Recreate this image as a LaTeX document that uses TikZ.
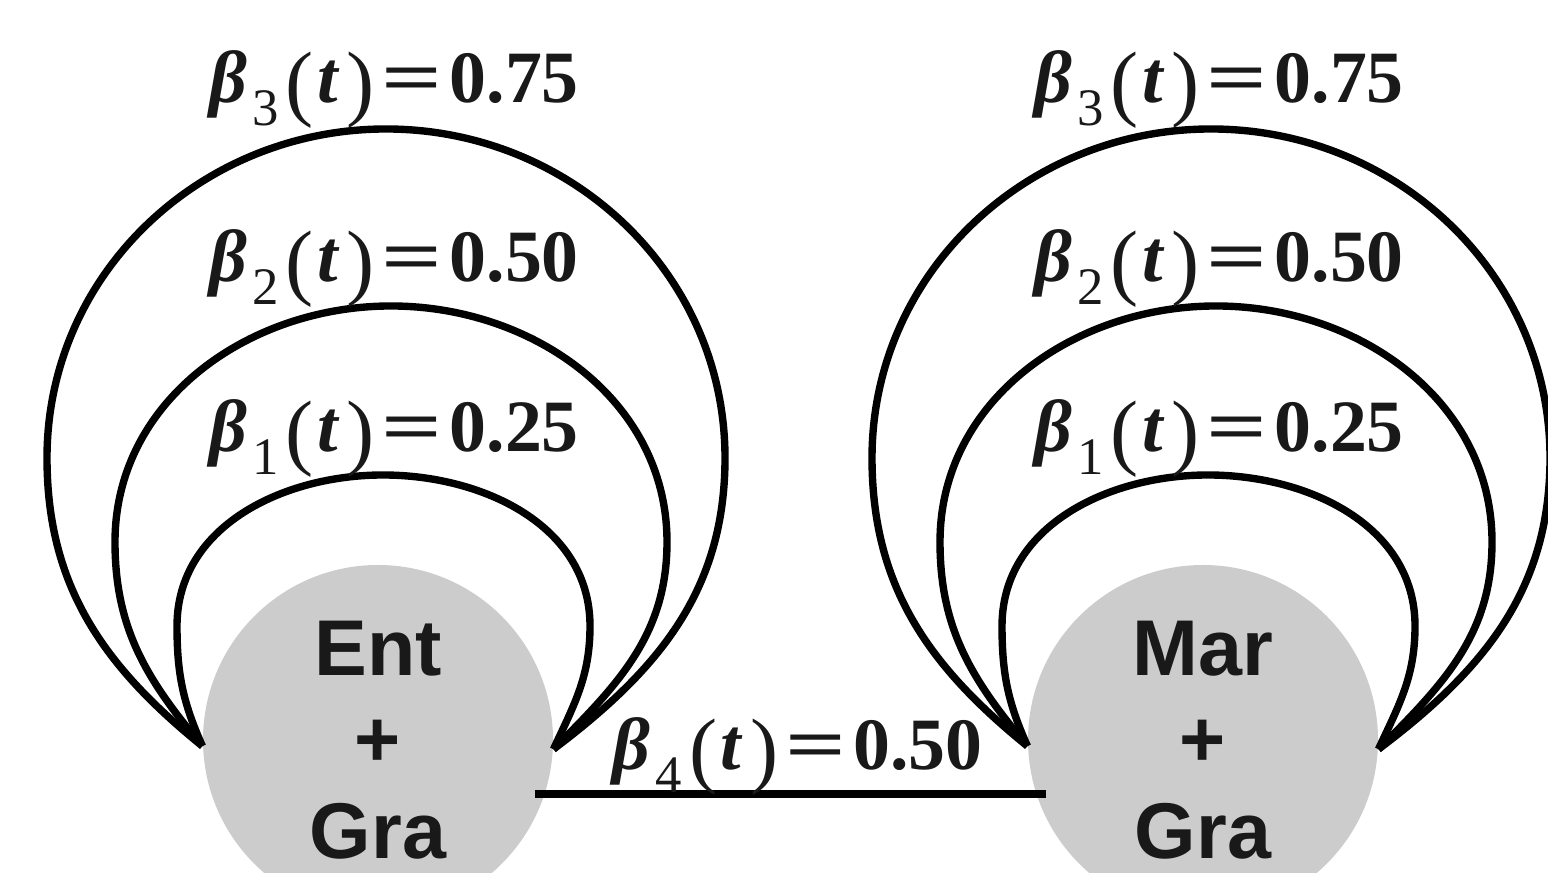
\documentclass[tikz,border=0pt]{standalone}
\usepackage{graphicx}
\usepackage{fontspec}
\setmainfont{Liberation Serif}
\newfontfamily\arialfont{Liberation Sans}
\newcommand{\paren}[1]{\raisebox{-0.1em}{\fontsize{24}{24}\selectfont #1}}
\newcommand{\rate}[2]{\textbf{\textit{β}}\kern1.5pt\raisebox{-6.5pt}{\fontsize{15}{15}\selectfont #1}\kern2pt\paren{(}\kern1pt\textbf{\textit{t}}\kern2pt\paren{)}\kern2pt\scalebox{1.45}[1]{\textbf{=}}\kern2pt\textbf{#2}}

\begin{document}
\begin{tikzpicture}[
  state/.style={circle, fill=gray!40, minimum size=3.5cm, inner sep=0pt, align=center,
    font=\arialfont\bfseries\fontsize{22.5}{26}\selectfont, text=black!90},
  trans/.style={line width=2.1pt},
  lab/.style={font=\fontsize{21}{24}\selectfont, inner sep=0pt, text=black!90, anchor=base}
]
  \useasboundingbox (0,0) rectangle (15.48,8.73);
  \node[state] (ent) at (3.78,1.33) {Ent\\+\\Gra};
  \node[state] (mar) at (12.03,1.33) {Mar\\+\\Gra};
  % self loops: left side, top, right side, end angles
  \foreach \n in {ent,mar} {
    \foreach \lx/\ly/\tx/\ty/\rx/\ao/\ai in {-2.01/1.14/0.05/2.65/2.12/114/65,
        -2.63/1.98/0.13/4.34/2.89/130/45, -3.31/2.82/0.08/6.11/3.47/141/37}
      \draw[trans] (\n.182) to[out=\ao, in=-90] ([shift={(\lx,\ly)}]\n.center)
        to[out=90, in=180] ([shift={(\tx,\ty)}]\n.center)
        to[out=0, in=90] ([shift={(\rx,\ly)}]\n.center)
        to[out=-90, in=\ai] (\n.-3);
    \node[lab] (\n-b1) at ([shift={(0.16,2.88)}]\n.center) {\rate{1}{0.25}};
    \node[lab] (\n-b2) at ([shift={(0.16,4.58)}]\n.center) {\rate{2}{0.50}};
    \node[lab] (\n-b3) at ([shift={(0.16,6.37)}]\n.center) {\rate{3}{0.75}};
  }
  % link
  \draw[line width=2.4pt] ([xshift=-3pt]ent.-18) -- ([xshift=3pt]mar.198)
    node[midway, lab, yshift=7pt, xshift=2pt] (b4) {\rate{4}{0.50}};
\end{tikzpicture}
\end{document}
